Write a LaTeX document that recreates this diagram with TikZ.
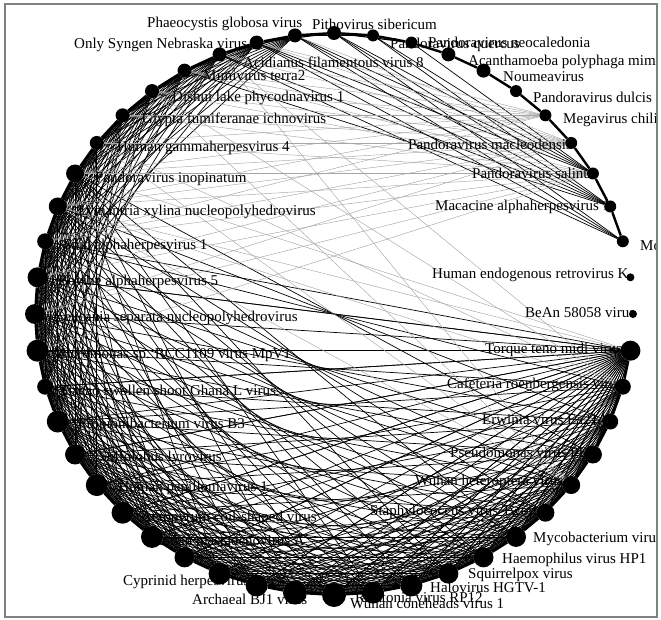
\documentclass[tikz,border=0pt]{standalone}
\usepackage{fontspec}
\setmainfont{Liberation Serif}
\pgfdeclarelayer{edgelayer}
\pgfdeclarelayer{textlayer}
\pgfsetlayers{edgelayer,textlayer,main}

\begin{document}
\begin{tikzpicture}[x=1pt,y=-1pt,
  vx/.style={draw=none,fill=black,circle,inner sep=0pt},
  lbl/.style={anchor=west,inner sep=0pt,font=\fontsize{15}{16}\selectfont},
  rim/.style={line width=2.4pt},
  rim2/.style={line width=1.2pt},
  chord/.style={line width=0.7pt},
  faint/.style={gray!70,line width=0.45pt}]
\useasboundingbox (0,0) rectangle (661,620);

% vertices on the ring: index/radius
\foreach \i/\r in {0/7,1/6,2/6,3/7,4/7,5/6,6/6,7/6,8/6,9/6,10/6,11/4,12/4,13/10,
  14/8,15/8,16/9,17/9,18/9,19/10,20/10,21/10,22/11,23/11,24/12,25/12,26/11,27/11,
  28/10,29/11,30/11,31/11,32/10,33/11,34/8,35/11,36/10,37/10,38/8,39/9,40/9,
  41/7,42/7,43/7,44/7,45/7,46/7,47/7}
  \node[vx,minimum size={2*\r pt}] (v\i) at ({334+299*cos(90-7.5*\i)},{314-281*sin(90-7.5*\i)}) {};

\begin{pgfonlayer}{edgelayer}
  % ring
  \foreach \i [evaluate=\i as \j using int(\i+1)] in {0,...,9,13,14,...,46}
    \draw[rim] (v\i)--(v\j);
  \draw[rim] (v47)--(v0);
  \foreach \i [evaluate=\i as \j using int(\i+2)] in {13,...,45}
    \draw[rim2] (v\i)--(v\j);
  \draw[rim2] (v46)--(v0);\draw[rim2] (v47)--(v1);\draw[rim2] (v0)--(v2);
  % lower lattice
  \foreach \i in {13,...,44}
    \foreach \k in {3,4,5,6,7,8,9,10,11,13,15,17,19,21,24}{
      \pgfmathtruncatemacro\j{\i+\k}
      \ifnum\j<48
        \ifnum\j>40 \ifnum\k<11 \draw[chord] (v\i)--(v\j);\fi
        \else \draw[chord] (v\i)--(v\j);\fi
      \fi}
  % fan of Torque teno midi virus
  \foreach \j in {16,...,38} \draw[chord] (v13)--(v\j);
  \draw[faint] (v13)--(v39);\draw[faint] (v13)--(v40);
  % top bundle
  \foreach \j in {46,47,0,1,2} \draw[chord] (v8)--(v\j);
  \foreach \j in {44,45,46,47,0,1} \draw[chord] (v9)--(v\j);
  \foreach \j in {45,46,47,0} \draw[chord] (v10)--(v\j);
  % grey fans to the left
  \foreach \j in {36,...,47} \draw[faint] (v7)--(v\j);
  \foreach \j in {38,...,46} \draw[faint] (v6)--(v\j);
  \foreach \j in {35,...,44} \draw[faint] (v8)--(v\j);
  \foreach \i in {39,41,43,45}
    \foreach \j in {14,17} \draw[faint] (v\i)--(v\j);
\end{pgfonlayer}

\begin{pgfonlayer}{textlayer}
\begin{scope}
\clip (5,4) rectangle (657,617);
\node[lbl] (lphaeo) at (147,24) {Phaeocystis globosa virus};
\node[lbl] (lpitho) at (312,24) {Pithovirus sibericum};
\node[lbl] (lonly) at (74,45) {Only Syngen Nebraska virus 5};
\node[lbl] (lquerc) at (390,45) {Pandoravirus quercus};
\node[lbl] (lneoc) at (428,42) {Pandoravirus neocaledonia};
\node[lbl] (lacid) at (243,62) {Acidianus filamentous virus 8};
\node[lbl] (lacan) at (468,62) {Acanthamoeba polyphaga mimivirus};
\node[lbl] (lmimi) at (203,76) {Mimivirus terra2};
\node[lbl] (lnoum) at (503,77) {Noumeavirus};
\node[lbl] (ldish) at (172,98) {Dishui lake phycodnavirus 1};
\node[lbl] (ldulc) at (533,97) {Pandoravirus dulcis};
\node[lbl] (lglyp) at (142,120) {Glypta fumiferanae ichnovirus};
\node[lbl] (lmega) at (563,120) {Megavirus chiliensis};
\node[lbl] (lhgam) at (117,148) {Human gammaherpesvirus 4};
\node[lbl] (lmacl) at (408,144) {Pandoravirus macleodensis};
\node[lbl] (linop) at (95,179) {Pandoravirus inopinatum};
\node[lbl] (lsali) at (472,173) {Pandoravirus salinus};
\node[lbl] (llyma) at (78,212) {Lymantria xylina nucleopolyhedrovirus};
\node[lbl] (lmaca) at (435,207) {Macacine alphaherpesvirus 1};
\node[lbl] (lmoum) at (640,246) {Moumouvirus};
\node[lbl] (lsuid) at (63,246) {Suid alphaherpesvirus 1};
\node[lbl] (lherv) at (432,275) {Human endogenous retrovirus K};
\node[lbl] (lbovi) at (58,282) {Bovine alphaherpesvirus 5};
\node[lbl] (lbean) at (525,313) {BeAn 58058 virus};
\node[lbl] (lleuc) at (55,318) {Leucania separata nucleopolyhedrovirus};
\node[lbl] (ltorq) at (485,350) {Torque teno midi virus};
\node[lbl] (lmicr) at (53,355) {Micromonas sp. RCC1109 virus MpV1};
\node[lbl] (lcafe) at (447,385) {Cafeteria roenbergensis virus};
\node[lbl] (lcaca) at (62,390) {Cacao swollen shoot Ghana L virus};
\node[lbl] (lerwi) at (482,420) {Erwinia virus Ea214};
\node[lbl] (lprop) at (78,425) {Propionibacterium virus B3};
\node[lbl] (lpseu) at (450,452) {Pseudomonas virus PB1};
\node[lbl,anchor=east] (llyro) at (222,458) {Sulfolobus lyrovirus};
\node[lbl] (lwuha) at (415,482) {Wuhan heteroptera virus};
\node[lbl,anchor=east] (lpapi) at (268,488) {Human papillomavirus 1};
\node[lbl] (lstap) at (370,512) {Staphylococcus virus Twort};
\node[lbl,anchor=east] (laero) at (317,518) {Aeropyrum coil-shaped virus};
\node[lbl,anchor=east] (lmast) at (305,540) {Human mastadenovirus A};
\node[lbl] (lmyco) at (533,539) {Mycobacterium virus L5};
\node[lbl] (lhaem) at (502,560) {Haemophilus virus HP1};
\node[lbl] (lsqui) at (468,575) {Squirrelpox virus};
\node[lbl] (lcypr) at (123,582) {Cyprinid herpesvirus 1};
\node[lbl] (lhalo) at (430,587) {Halovirus HGTV-1};
\node[lbl] (larch) at (192,599) {Archaeal BJ1 virus};
\node[lbl] (lrals) at (355,597) {Ralstonia virus RP12};
\node[lbl] (lwuco) at (350,603) {Wuhan coneheads virus 1};
\end{scope}
\end{pgfonlayer}

\draw[gray,line width=1.5pt] (5,4) rectangle (657,617);
\end{tikzpicture}
\end{document}
